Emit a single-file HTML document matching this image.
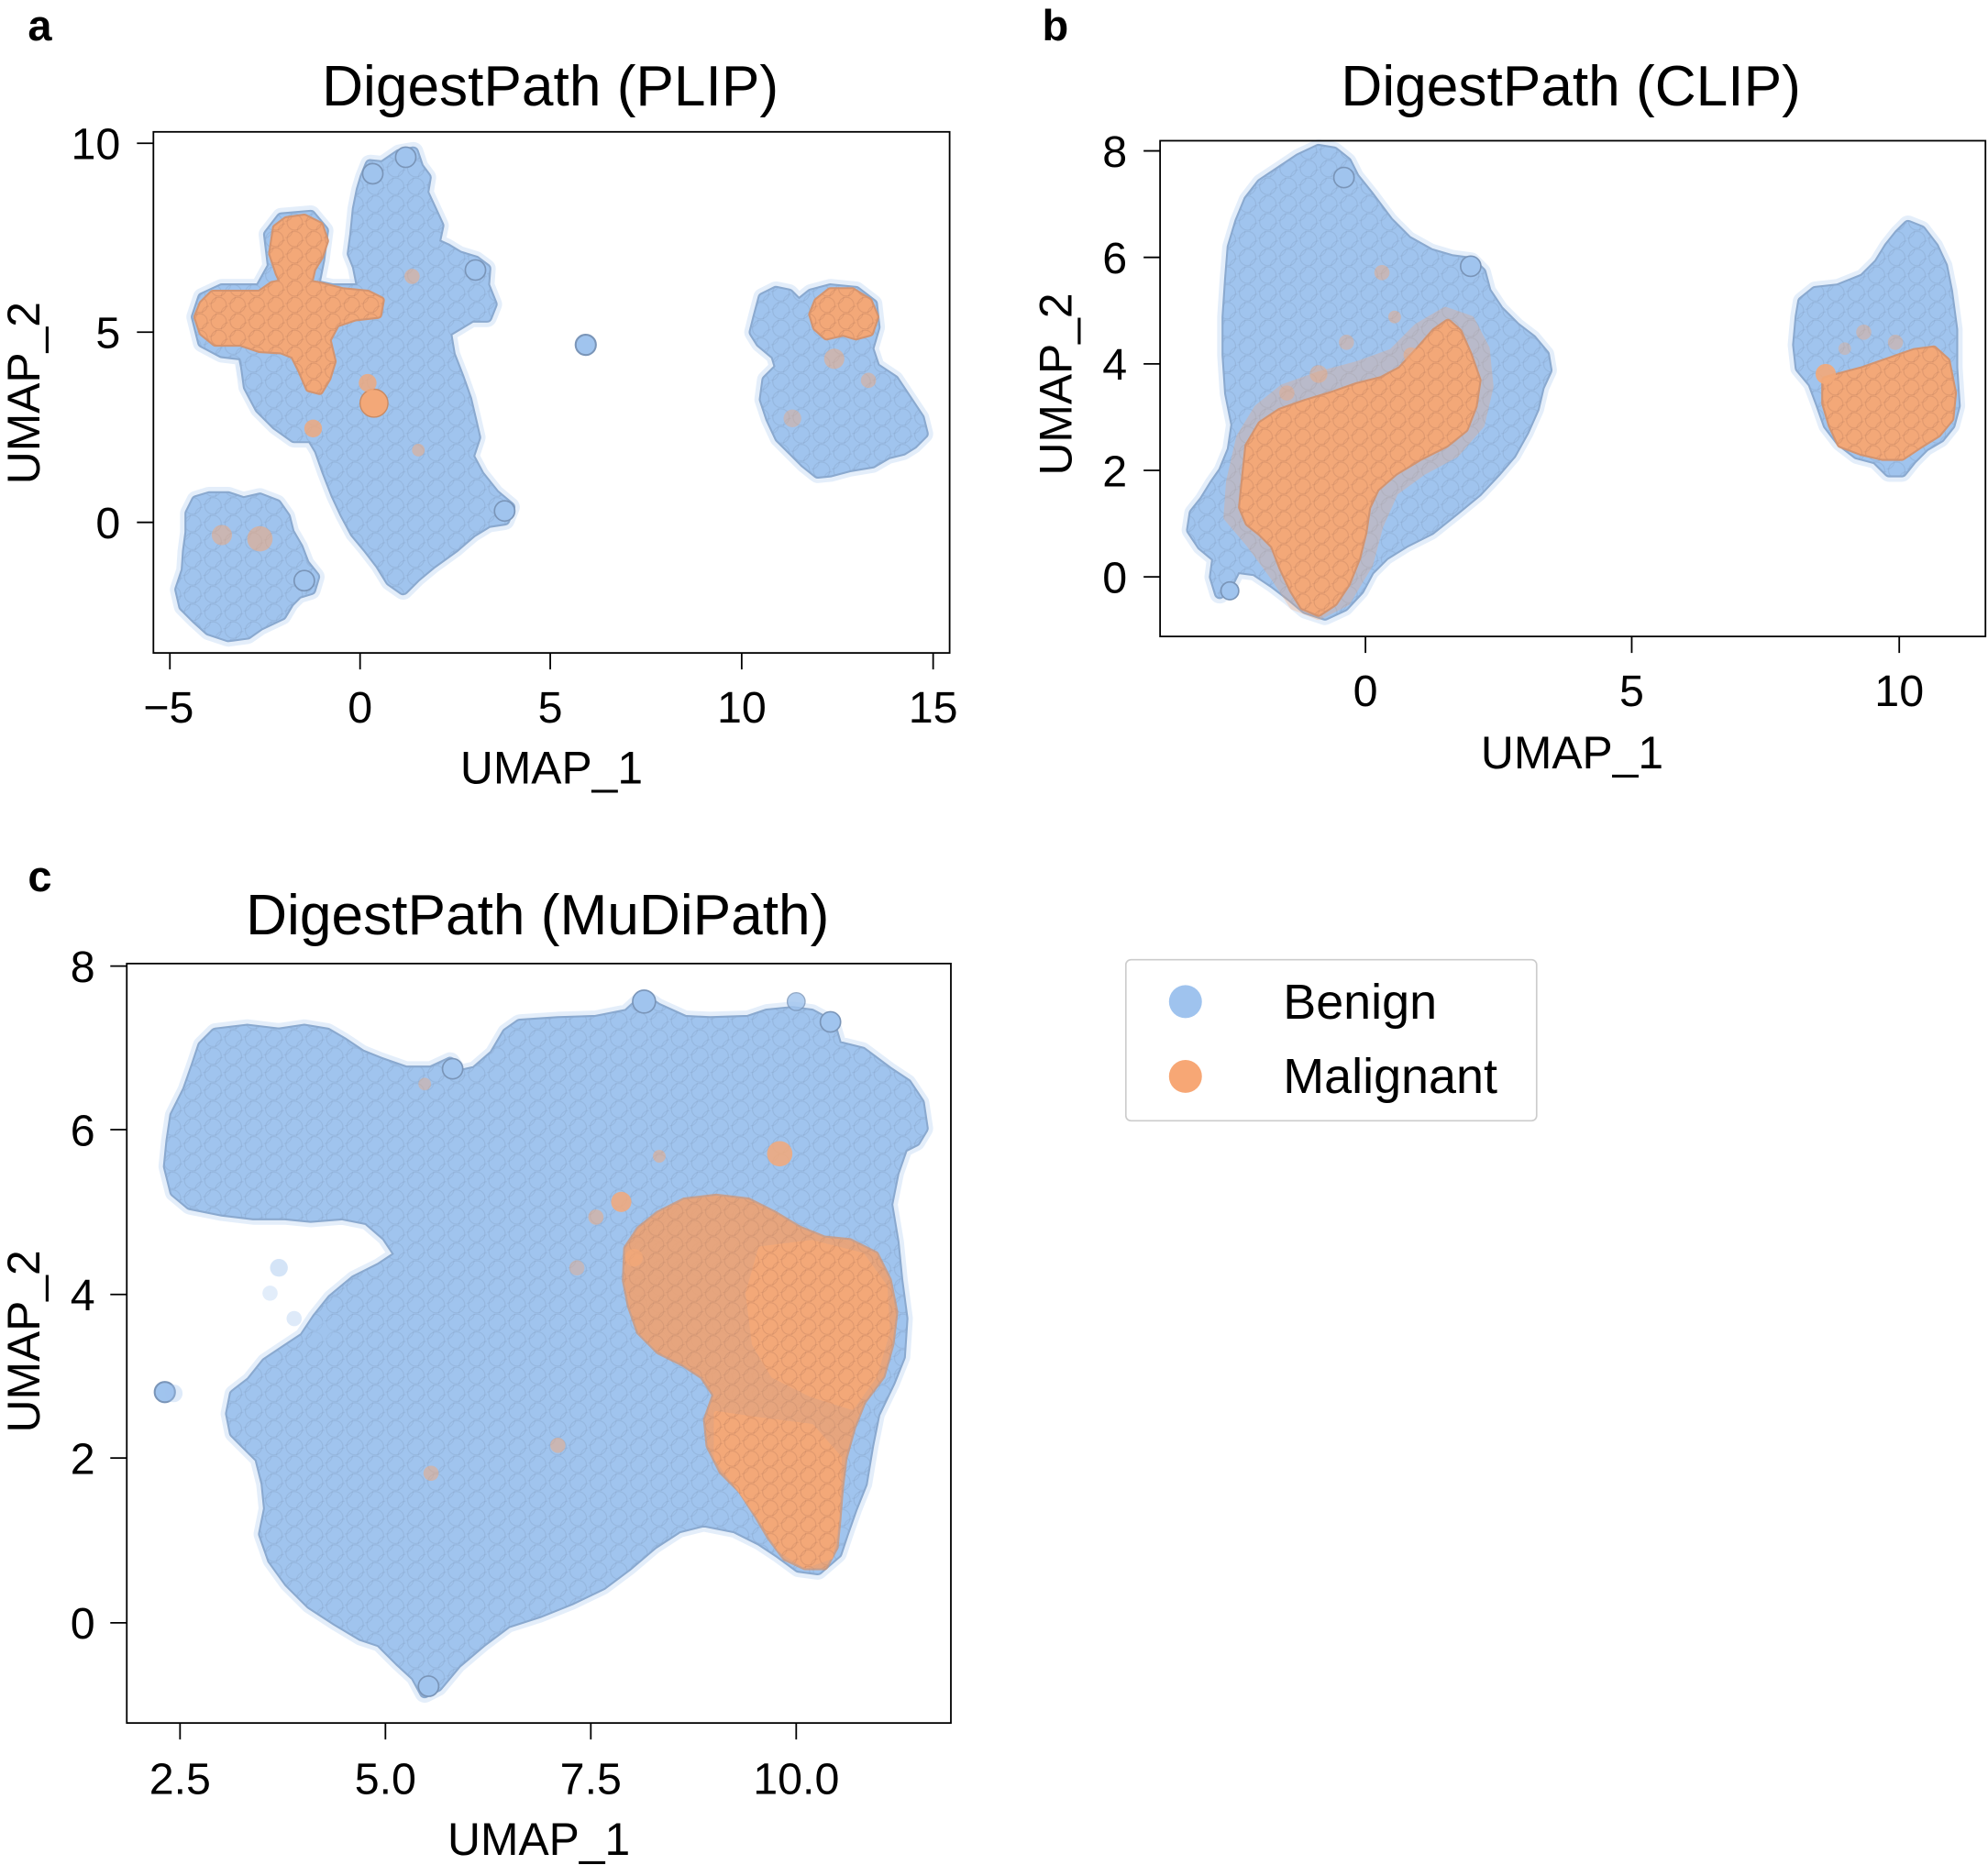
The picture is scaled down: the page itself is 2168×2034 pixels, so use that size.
<!DOCTYPE html>
<html><head><meta charset="utf-8"><style>
html,body{margin:0;padding:0;background:#fff}
svg{display:block}
text{font-family:"Liberation Sans",Arial,sans-serif;fill:#000}
.halo{fill:#d9e8f9;stroke:#d9e8f9;stroke-width:16;stroke-linejoin:round;opacity:.7}
.be{fill:#8aa9cf;stroke:#8aa9cf;stroke-width:9;stroke-linejoin:round}
.bf{fill:url(#tb);stroke:url(#tb);stroke-width:6;stroke-linejoin:round}
.oh{fill:#f3a678;stroke:#f3a678;stroke-width:6;stroke-linejoin:round;opacity:.3}
.oe{fill:#d39470;stroke:#d39470;stroke-width:7;stroke-linejoin:round}
.of{fill:url(#to);stroke:url(#to);stroke-width:4;stroke-linejoin:round}
.ax{fill:none;stroke:#000;stroke-width:1.3}
.tk{stroke:#000;stroke-width:1.3}
.tl{font-size:35px}
.al{font-size:36px}
.ti{font-size:45px}
.pl{font-size:34px;font-weight:bold}
</style></head><body>
<svg width="2168" height="2034" viewBox="0 0 1568 1471" preserveAspectRatio="none" xmlns="http://www.w3.org/2000/svg">
<defs>
<pattern id="tb" width="16" height="14" patternUnits="userSpaceOnUse">
<rect width="16" height="14" fill="#a0c4ee"/>
<circle cx="8" cy="7" r="6.5" fill="none" stroke="#7a95b8" stroke-opacity=".3" stroke-width=".8"/>
<circle cx="0" cy="0" r="6" fill="none" stroke="#7a95b8" stroke-opacity=".25" stroke-width=".8"/>
<circle cx="16" cy="14" r="6" fill="none" stroke="#7a95b8" stroke-opacity=".25" stroke-width=".8"/>
</pattern>
<pattern id="to" width="15" height="13" patternUnits="userSpaceOnUse">
<rect width="15" height="13" fill="#f3a878"/>
<circle cx="7.5" cy="6.5" r="6" fill="none" stroke="#b07456" stroke-opacity=".3" stroke-width=".8"/>
<circle cx="0" cy="0" r="5.5" fill="none" stroke="#b07456" stroke-opacity=".25" stroke-width=".8"/>
<circle cx="15" cy="13" r="5.5" fill="none" stroke="#b07456" stroke-opacity=".25" stroke-width=".8"/>
</pattern>

<polygon id="aMain" points="288,140 292,130 302,131 315,122 326,120 330,132 336,140 334,152 340,165 346,178 343,192 352,196 362,202 375,206 383,212 382,225 388,240 384,250 372,250 362,256 352,262 355,280 362,298 368,315 372,332 375,345 370,360 378,375 390,390 402,400 398,410 385,412 372,420 358,432 340,445 328,455 318,465 308,458 300,445 290,432 280,420 272,405 265,390 258,372 252,355 246,345 232,345 218,335 205,322 196,305 194,290 200,278 215,272 250,270 270,260 285,245 285,225 282,210 278,200 280,185 282,165 285,150"/>
<polygon id="aLeft" points="160,235 175,228 205,228 215,210 212,185 222,172 245,170 255,182 252,205 248,225 262,228 285,228 300,232 300,262 285,270 260,275 250,300 240,320 225,325 205,315 195,295 192,280 175,278 160,270 155,250"/>
<polygon id="aOTop" points="218,180 226,174 240,172 252,178 256,190 252,202 246,212 243,225 236,232 226,228 220,215 215,200"/>
<polygon id="aOBand" points="160,240 168,232 190,232 205,232 215,225 230,222 250,225 270,230 290,232 300,237 298,248 280,250 265,255 258,268 262,285 258,298 252,308 244,306 238,292 232,280 222,276 205,275 190,270 170,270 160,262 156,250"/>
<polygon id="aBL" points="150,405 155,395 165,392 180,392 192,396 205,393 218,398 225,408 228,420 235,432 240,445 248,455 245,465 235,468 228,475 222,485 205,493 195,500 180,502 165,497 155,488 145,478 142,465 147,450 148,435 150,420"/>
<polygon id="aR" points="598,250 602,235 612,230 622,232 630,240 640,232 655,228 675,230 688,240 690,258 685,275 690,290 705,300 715,315 725,330 728,342 720,350 712,355 700,358 688,365 670,368 655,372 645,373 635,365 625,355 615,345 608,330 603,315 605,300 615,290 612,280 600,270 595,262"/>
<polygon id="aRO" points="645,238 655,230 672,230 685,238 690,250 686,262 675,265 665,262 652,265 644,258 641,248"/>

<polygon id="bL" points="1040,118 1052,120 1062,128 1068,140 1080,155 1095,175 1110,190 1128,200 1145,205 1160,207 1168,215 1172,230 1182,245 1195,258 1208,268 1218,280 1220,292 1214,305 1210,322 1202,340 1192,358 1180,372 1165,388 1148,402 1128,418 1108,428 1092,438 1080,450 1072,465 1060,478 1045,485 1030,480 1018,470 1005,460 990,450 975,448 968,462 962,468 958,455 960,440 948,430 940,418 942,405 950,395 958,382 965,372 972,355 975,335 970,310 968,280 968,250 970,220 972,195 978,175 985,158 995,145 1010,135 1025,125"/>
<polygon id="bLOh" points="978,345 992,322 1012,306 1040,296 1070,288 1098,278 1118,258 1140,245 1160,252 1172,275 1175,305 1168,335 1148,358 1122,372 1100,388 1088,415 1080,445 1062,475 1040,486 1020,478 1005,455 985,428 968,408 970,380"/>
<polygon id="bLO" points="985,352 995,335 1010,325 1030,318 1050,312 1070,305 1090,300 1105,292 1118,278 1132,262 1142,255 1150,262 1158,280 1165,300 1162,320 1155,338 1140,350 1120,360 1100,372 1085,385 1078,400 1075,420 1070,440 1062,460 1052,475 1040,483 1028,478 1020,465 1012,448 1005,430 995,420 985,412 980,400 982,380"/>
<polygon id="bR" points="1505,178 1515,182 1525,195 1532,210 1536,230 1540,260 1540,290 1542,320 1538,335 1530,345 1518,352 1508,362 1500,372 1490,372 1480,362 1465,358 1452,348 1442,335 1436,318 1430,302 1420,290 1418,272 1420,250 1422,238 1432,230 1450,228 1470,220 1482,208 1490,195 1498,185"/>
<polygon id="bRO" points="1440,300 1455,296 1470,292 1490,285 1510,278 1525,276 1535,285 1540,310 1538,330 1528,342 1515,350 1500,360 1485,360 1468,356 1452,350 1445,335 1440,318"/>

<polygon id="cB" points="135,900 138,880 148,860 155,840 160,825 170,815 195,812 220,815 240,812 258,815 270,822 285,832 300,838 320,845 340,845 355,838 362,848 375,845 390,832 400,815 410,808 440,806 470,805 495,800 508,788 518,795 540,805 560,806 590,805 605,800 625,798 640,800 655,808 660,825 680,830 700,845 715,855 725,870 728,890 722,900 712,905 705,925 700,950 705,980 708,1010 712,1040 710,1070 702,1090 690,1115 685,1140 680,1170 672,1190 665,1210 660,1225 645,1238 630,1236 615,1225 600,1215 580,1205 555,1200 535,1205 515,1218 495,1235 475,1250 450,1262 425,1272 400,1280 380,1295 360,1312 345,1330 335,1335 328,1322 315,1310 300,1295 285,1290 265,1278 245,1265 228,1248 215,1230 208,1210 212,1190 210,1170 205,1150 195,1140 185,1130 182,1115 185,1100 198,1090 210,1075 225,1065 240,1055 250,1040 262,1025 280,1010 300,1000 315,990 305,975 290,962 270,958 245,960 225,958 200,958 175,955 150,950 138,940 133,920"/>
<polygon id="cO" points="495,985 505,970 520,958 540,948 565,945 590,948 610,958 630,970 650,978 670,980 690,990 700,1010 705,1035 702,1060 695,1085 680,1105 672,1125 665,1150 662,1175 660,1200 658,1220 650,1235 635,1235 620,1228 608,1212 598,1195 585,1175 570,1160 560,1140 558,1120 565,1100 555,1085 540,1075 520,1065 505,1050 498,1030 494,1010"/>
<polygon id="cOs" points="600,985 640,980 680,990 698,1015 700,1050 690,1085 672,1110 640,1100 610,1085 595,1060 590,1020"/>
<polygon id="cOl" points="565,1115 600,1120 640,1125 662,1150 660,1200 655,1228 635,1235 615,1222 598,1195 580,1170 565,1150"/>
</defs>

<!-- Panel a -->
<text class="pl" x="22" y="32">a</text>
<text class="ti" x="434" y="83" text-anchor="middle">DigestPath (PLIP)</text>

<use href="#aMain" class="halo"/><use href="#aLeft" class="halo"/><use href="#aBL" class="halo"/><use href="#aR" class="halo"/>
<use href="#aMain" class="be"/><use href="#aLeft" class="be"/><use href="#aBL" class="be"/><use href="#aR" class="be"/>
<use href="#aMain" class="bf"/><use href="#aLeft" class="bf"/><use href="#aBL" class="bf"/><use href="#aR" class="bf"/>
<circle cx="462" cy="272" r="8" fill="#a0c4ee" stroke="#7a95b8" stroke-width="1.5"/>
<circle cx="320" cy="124" r="8" fill="#a0c4ee" stroke="#7a95b8" stroke-width="1.2"/>
<circle cx="294" cy="137" r="8" fill="#a0c4ee" stroke="#7a95b8" stroke-width="1.2"/>
<circle cx="375" cy="213" r="8" fill="#a0c4ee" stroke="#7a95b8" stroke-width="1.2"/>
<circle cx="398" cy="403" r="8" fill="#a0c4ee" stroke="#7a95b8" stroke-width="1.2"/>
<circle cx="240" cy="458" r="8" fill="#a0c4ee" stroke="#7a95b8" stroke-width="1.2"/>

<use href="#aOTop" class="oe"/><use href="#aOBand" class="oe"/><use href="#aRO" class="oe"/>
<use href="#aOTop" class="of"/><use href="#aOBand" class="of"/><use href="#aRO" class="of"/>
<circle cx="247" cy="338" r="7" fill="#f3a878" opacity=".8"/>
<circle cx="295" cy="318" r="11" fill="#f3a878" stroke="#c98a63" stroke-width="1"/>
<circle cx="290" cy="302" r="7" fill="#f3a878" opacity=".8"/>
<circle cx="325" cy="218" r="6" fill="#f3a878" opacity=".5"/>
<circle cx="330" cy="355" r="5" fill="#f3a878" opacity=".5"/>
<circle cx="175" cy="422" r="8" fill="#f3a878" opacity=".5"/>
<circle cx="205" cy="425" r="10" fill="#f3a878" opacity=".55"/>
<circle cx="658" cy="283" r="8" fill="#f3a878" opacity=".5"/>
<circle cx="625" cy="330" r="7" fill="#f3a878" opacity=".4"/>
<circle cx="685" cy="300" r="6" fill="#f3a878" opacity=".45"/>

<rect class="ax" x="121" y="104" width="628" height="411"/>
<g class="tk">
<line x1="134" y1="515" x2="134" y2="528"/><line x1="284" y1="515" x2="284" y2="528"/><line x1="434" y1="515" x2="434" y2="528"/><line x1="585" y1="515" x2="585" y2="528"/><line x1="736" y1="515" x2="736" y2="528"/>
<line x1="108" y1="113" x2="121" y2="113"/><line x1="108" y1="262" x2="121" y2="262"/><line x1="108" y1="412" x2="121" y2="412"/>
</g>
<g class="tl" text-anchor="middle">
<text x="133" y="570">−5</text><text x="284" y="570">0</text><text x="434" y="570">5</text><text x="585" y="570">10</text><text x="736" y="570">15</text>
</g>
<g class="tl" text-anchor="end">
<text x="95" y="125.5">10</text><text x="95" y="274.5">5</text><text x="95" y="424.5">0</text>
</g>
<text class="al" x="435" y="618" text-anchor="middle">UMAP_1</text>
<text class="al" x="31" y="310" text-anchor="middle" transform="rotate(-90 31 310)">UMAP_2</text>

<!-- Panel b -->
<text class="pl" x="822" y="32">b</text>
<text class="ti" x="1239" y="83" text-anchor="middle">DigestPath (CLIP)</text>

<use href="#bL" class="halo"/><use href="#bR" class="halo"/>
<use href="#bL" class="be"/><use href="#bR" class="be"/>
<use href="#bL" class="bf"/><use href="#bR" class="bf"/>
<circle cx="970" cy="466" r="7" fill="#a0c4ee" stroke="#7a95b8" stroke-width="1.2"/>
<circle cx="1060" cy="140" r="8" fill="#a0c4ee" stroke="#7a95b8" stroke-width="1.2"/>
<circle cx="1160" cy="210" r="8" fill="#a0c4ee" stroke="#7a95b8" stroke-width="1.2"/>

<use href="#bLOh" class="oh"/>
<use href="#bLO" class="oe"/><use href="#bRO" class="oe"/>
<use href="#bLO" class="of"/><use href="#bRO" class="of"/>
<circle cx="1090" cy="215" r="6" fill="#f3a878" opacity=".45"/>
<circle cx="1113" cy="280" r="6" fill="#f3a878" opacity=".5"/>
<circle cx="1100" cy="250" r="5" fill="#f3a878" opacity=".45"/>
<circle cx="1062" cy="270" r="6" fill="#f3a878" opacity=".4"/>
<circle cx="1040" cy="295" r="7" fill="#f3a878" opacity=".45"/>
<circle cx="1015" cy="310" r="6" fill="#f3a878" opacity=".4"/>
<circle cx="1440" cy="295" r="8" fill="#f3a878" opacity=".9"/>
<circle cx="1470" cy="262" r="6" fill="#f3a878" opacity=".4"/>
<circle cx="1495" cy="270" r="6" fill="#f3a878" opacity=".4"/>
<circle cx="1455" cy="275" r="5" fill="#f3a878" opacity=".35"/>

<rect class="ax" x="915" y="111" width="651" height="391"/>
<g class="tk">
<line x1="1077" y1="502" x2="1077" y2="515"/><line x1="1287" y1="502" x2="1287" y2="515"/><line x1="1498" y1="502" x2="1498" y2="515"/>
<line x1="902" y1="119" x2="915" y2="119"/><line x1="902" y1="203" x2="915" y2="203"/><line x1="902" y1="287" x2="915" y2="287"/><line x1="902" y1="371" x2="915" y2="371"/><line x1="902" y1="455" x2="915" y2="455"/>
</g>
<g class="tl" text-anchor="middle">
<text x="1077" y="557">0</text><text x="1287" y="557">5</text><text x="1498" y="557">10</text>
</g>
<g class="tl" text-anchor="end">
<text x="889" y="131.5">8</text><text x="889" y="215.5">6</text><text x="889" y="299.5">4</text><text x="889" y="383.5">2</text><text x="889" y="467.5">0</text>
</g>
<text class="al" x="1240" y="606" text-anchor="middle">UMAP_1</text>
<text class="al" x="845" y="303" text-anchor="middle" transform="rotate(-90 845 303)">UMAP_2</text>

<!-- Panel c -->
<text class="pl" x="22" y="703">c</text>
<text class="ti" x="424" y="737" text-anchor="middle">DigestPath (MuDiPath)</text>

<use href="#cB" class="halo"/>
<use href="#cB" class="be"/>
<use href="#cB" class="bf"/>
<circle cx="130" cy="1098" r="8" fill="#a0c4ee" stroke="#7a95b8" stroke-width="1.5"/>
<circle cx="137" cy="1099" r="7" fill="#a0c4ee" opacity=".35"/>
<circle cx="220" cy="1000" r="7" fill="#a0c4ee" opacity=".45"/>
<circle cx="255" cy="1050" r="8" fill="#a0c4ee" opacity=".5"/>
<circle cx="232" cy="1040" r="6" fill="#a0c4ee" opacity=".35"/>
<circle cx="213" cy="1020" r="6" fill="#a0c4ee" opacity=".3"/>
<circle cx="508" cy="790" r="9" fill="#a0c4ee" stroke="#7a95b8" stroke-width="1.2"/>
<circle cx="628" cy="790" r="7" fill="#a0c4ee" stroke="#7a95b8" stroke-width="1" opacity=".8"/>
<circle cx="655" cy="806" r="8" fill="#a0c4ee" stroke="#7a95b8" stroke-width="1.2"/>
<circle cx="357" cy="843" r="8" fill="#a0c4ee" stroke="#7a95b8" stroke-width="1.2"/>
<circle cx="338" cy="1330" r="8" fill="#a0c4ee" stroke="#7a95b8" stroke-width="1.2"/>

<use href="#cO" class="oe" opacity=".75"/>
<use href="#cO" class="of" opacity=".72"/>
<use href="#cOs" class="of"/>
<use href="#cOl" class="of"/>
<circle cx="615" cy="910" r="10" fill="#f3a878" opacity=".85"/>
<circle cx="490" cy="948" r="8" fill="#f3a878" opacity=".85"/>
<circle cx="500" cy="992" r="7" fill="#f3a878" opacity=".7"/>
<circle cx="440" cy="1140" r="6" fill="#f3a878" opacity=".5"/>
<circle cx="340" cy="1162" r="6" fill="#f3a878" opacity=".5"/>
<circle cx="520" cy="912" r="5" fill="#f3a878" opacity=".5"/>
<circle cx="335" cy="855" r="5" fill="#f3a878" opacity=".4"/>
<circle cx="470" cy="960" r="6" fill="#f3a878" opacity=".5"/>
<circle cx="455" cy="1000" r="6" fill="#f3a878" opacity=".4"/>

<rect class="ax" x="100" y="760" width="650" height="599"/>
<g class="tk">
<line x1="142" y1="1359" x2="142" y2="1372"/><line x1="304" y1="1359" x2="304" y2="1372"/><line x1="466" y1="1359" x2="466" y2="1372"/><line x1="628" y1="1359" x2="628" y2="1372"/>
<line x1="87" y1="762" x2="100" y2="762"/><line x1="87" y1="891" x2="100" y2="891"/><line x1="87" y1="1021" x2="100" y2="1021"/><line x1="87" y1="1150" x2="100" y2="1150"/><line x1="87" y1="1280" x2="100" y2="1280"/>
</g>
<g class="tl" text-anchor="middle">
<text x="142" y="1415">2.5</text><text x="304" y="1415">5.0</text><text x="466" y="1415">7.5</text><text x="628" y="1415">10.0</text>
</g>
<g class="tl" text-anchor="end">
<text x="75" y="774.5">8</text><text x="75" y="903.5">6</text><text x="75" y="1033.5">4</text><text x="75" y="1162.5">2</text><text x="75" y="1292.5">0</text>
</g>
<text class="al" x="425" y="1463" text-anchor="middle">UMAP_1</text>
<text class="al" x="31" y="1058" text-anchor="middle" transform="rotate(-90 31 1058)">UMAP_2</text>

<!-- Legend -->
<rect x="888" y="757" width="324" height="127" rx="4" ry="4" fill="#fff" stroke="#cccccc" stroke-width="1.2"/>
<circle cx="935" cy="790" r="13" fill="#9fc3ee"/>
<circle cx="935" cy="849" r="13" fill="#f7a775"/>
<text x="1012" y="803.5" style="font-size:39px">Benign</text>
<text x="1012" y="862" style="font-size:39px">Malignant</text>
</svg>
</body></html>
